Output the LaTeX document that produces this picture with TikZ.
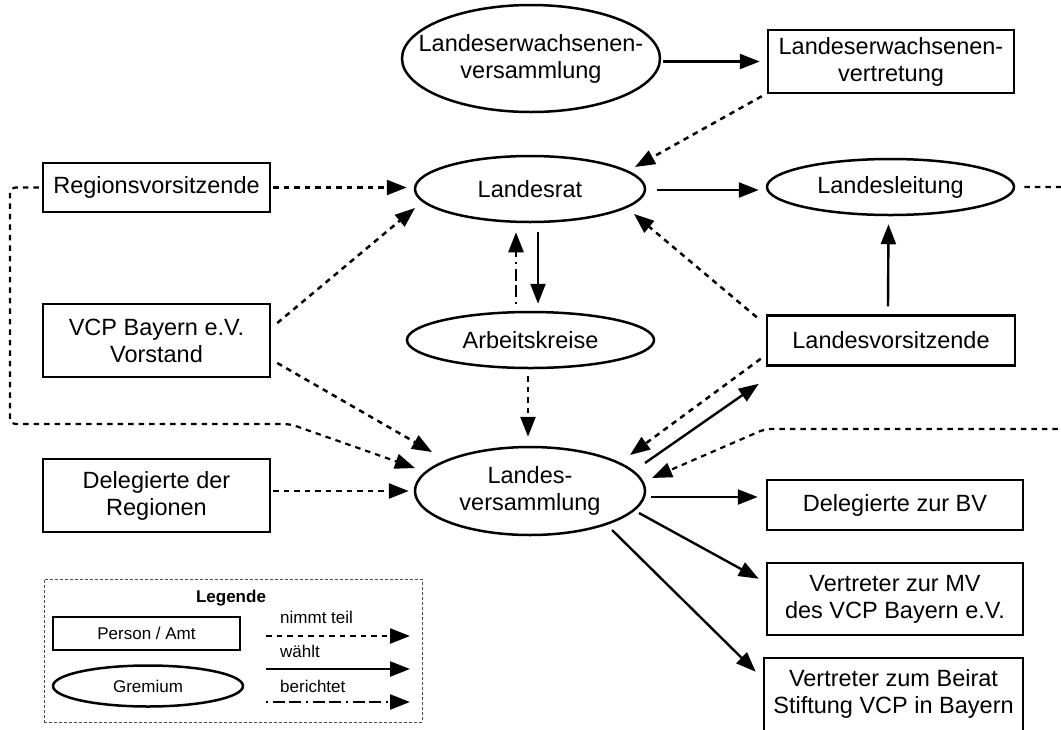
\documentclass[tikz,border=0pt]{standalone}
\usepackage{fontspec}
\setmainfont{Liberation Sans}
\usetikzlibrary{arrows.meta,shapes.geometric,calc}
\begin{document}
\begin{tikzpicture}[x=1pt,y=-1pt,
  amt/.style={draw,rectangle,line width=2.5pt,inner sep=0pt,align=center,font=\fontsize{23.5}{27}\selectfont},
  gremium/.style={draw,ellipse,line width=2.5pt,inner sep=0pt},
  txt/.style={align=center,inner sep=0pt,font=\fontsize{23.5}{27}\selectfont},
  ltxt/.style={inner sep=0pt,font=\fontsize{17}{20}\selectfont},
  tip/.style={-{Triangle[length=20pt,width=15pt]}},
  teil/.style={tip,line width=2.5pt,dash pattern=on 5.5pt off 5pt},
  waehlt/.style={tip,line width=2.4pt},
  bericht/.style={tip,line width=2.4pt,dash pattern=on 2pt off 5pt on 12pt off 4pt on 12pt off 5pt}]
\useasboundingbox (0,0) rectangle (1061,729);
\clip (0,0) rectangle (1061,729);

% Gremien
\node[gremium,minimum width=258pt,minimum height=107pt] (LEV) at (531,58.5) {};
\node[txt] (LEVtx) at (LEV) {Landeserwachsenen-\\versammlung};
\node[gremium,minimum width=230pt,minimum height=66pt] (LR) at (530,189) {};
\node[txt] (LRtx) at (LR) {Landesrat};
\node[gremium,minimum width=247pt,minimum height=56pt] (LL) at (890.5,187) {};
\node[txt] (LLtx) at (LL) {Landesleitung};
\node[gremium,minimum width=247pt,minimum height=56pt] (AK) at (530.5,340) {};
\node[txt] (AKtx) at (AK) {Arbeitskreise};
\node[gremium,minimum width=230pt,minimum height=88pt] (LVS) at (530,491) {};
\node[txt] (LVStx) at (LVS) {Landes-\\versammlung};

% Personen / Aemter
\node[amt,minimum width=246pt,minimum height=63pt] (LEVt) at (891,61.5) {Landeserwachsenen-\\vertretung};
\node[amt,minimum width=227pt,minimum height=49pt] (RV) at (156.5,187.5) {Regionsvorsitzende};
\node[amt,minimum width=227pt,minimum height=73pt] (VCP) at (156.5,340.5) {VCP Bayern e.V.\\Vorstand};
\node[amt,minimum width=248pt,minimum height=50pt] (LVo) at (891,340.5) {Landesvorsitzende};
\node[amt,minimum width=227pt,minimum height=73pt] (DR) at (156.5,495.5) {Delegierte der\\Regionen};
\node[amt,minimum width=256pt,minimum height=50pt] (DBV) at (895,505) {Delegierte zur BV};
\node[amt,minimum width=256pt,minimum height=72pt] (VMV) at (895,599) {Vertreter zur MV\\des VCP Bayern e.V.};
\node[amt,minimum width=259pt,minimum height=84pt] (VB) at (893.5,700) {};
\node[txt] (VBtx) at (893.5,693.5) {Vertreter zum Beirat\\Stiftung VCP in Bayern};

% Hilfspunkte
\coordinate (bL1) at (10,424);
\coordinate (bL2) at (290,424);
\coordinate (bR1) at (1075,429);
\coordinate (bR2) at (765,429);

% Verbindungen
\draw[waehlt] ($(LEV.east)+(2,3)$) -- ($(LEVt.west)+(-7,0)$);
\draw[teil] ($(LEVt.south west)+(-5,2)$) -- ($(LR.center)+(105,-22)$);
\draw[teil] ($(RV.east)+(2,0)$) -- ($(LR.west)+(-7,-1.5)$);
\draw[teil] ($(VCP.east)+(6,-17.5)$) -- ($(LR.center)+(-115,19)$);
\draw[teil] ($(VCP.east)+(6,22.5)$) -- ($(LVS.center)+(-98,-39)$);
\draw[teil,line width=2.2pt,rounded corners=6pt] ($(RV.west)+(-3,0)$) -| (bL1) -- (bL2) -- ($(LVS.center)+(-115,-23)$);
\draw[teil] ($(DR.east)+(2,-4.5)$) -- ($(LVS.west)+(-5,0)$);
\draw[waehlt] ($(LR.east)+(11,1)$) -- ($(LL.west)+(-7,3)$);
\draw[teil,line width=2.2pt,rounded corners=6pt] ($(LL.east)+(9,0)$) -| (bR1) -- (bR2) -- ($(LVS.center)+(122,-13)$);
\draw[waehlt] ($(LR.south)+(8,9)$) -- ($(AK.north)+(7.5,-7)$);
\draw[bericht] ($(AK.north)+(-14.5,-7)$) -- ($(LR.south)+(-14,9)$);
\draw[teil] ($(AK.south)+(-2.5,7)$) -- ($(LVS.north)+(-2,-9)$);
\draw[teil] ($(LVo.north west)+(-9,3)$) -- ($(LR.center)+(104,25)$);
\draw[waehlt] ($(LVo.north)+(-3,-8)$) -- ($(LL.south)+(-2,8)$);
\draw[teil] ($(LVo.south west)+(-5,-8)$) -- ($(LVS.center)+(100,-36)$);
\draw[waehlt] ($(LVS.center)+(115,-28)$) -- ($(LVo.south west)+(-7,17)$);
\draw[waehlt] ($(LVS.east)+(5,6)$) -- ($(DBV.west)+(-8,-8)$);
\draw[waehlt] ($(LVS.center)+(109,22)$) -- ($(VMV.north west)+(-7,17)$);
\draw[waehlt] ($(LVS.center)+(82,39)$) -- ($(VB.north west)+(-7,15)$);

% Legende
\node[draw=black!70,line width=1pt,dash pattern=on 3pt off 2pt,minimum width=378pt,minimum height=143pt,inner sep=0pt] (LEG) at (233,650.5) {};
\node[ltxt,font=\fontsize{17}{20}\selectfont\bfseries] (LEGt) at (231,598) {Legende};
\node[draw,rectangle,line width=2.5pt,minimum width=187pt,minimum height=33pt,inner sep=0pt,font=\fontsize{17}{20}\selectfont] (Lamt) at (146.5,633.5) {Person / Amt};
\node[draw,ellipse,line width=2.5pt,minimum width=190pt,minimum height=41pt,inner sep=0pt] (Lgrem) at (148,686) {};
\node[ltxt] (Lgremt) at (Lgrem) {Gremium};
\coordinate (La1) at (266,636);
\coordinate (La2) at (410,636);
\coordinate (Lb1) at (266,669);
\coordinate (Lb2) at (410,669);
\coordinate (Lc1) at (266,702);
\coordinate (Lc2) at (410,702);
\draw[teil] (La1) -- (La2);
\draw[waehlt] (Lb1) -- (Lb2);
\draw[bericht] (Lc1) -- (Lc2);
\node[ltxt,anchor=west] (Lt1) at (280,617) {nimmt teil};
\node[ltxt,anchor=west] (Lt2) at (280,651) {wählt};
\node[ltxt,anchor=west] (Lt3) at (280,686) {berichtet};
\end{tikzpicture}
\end{document}
